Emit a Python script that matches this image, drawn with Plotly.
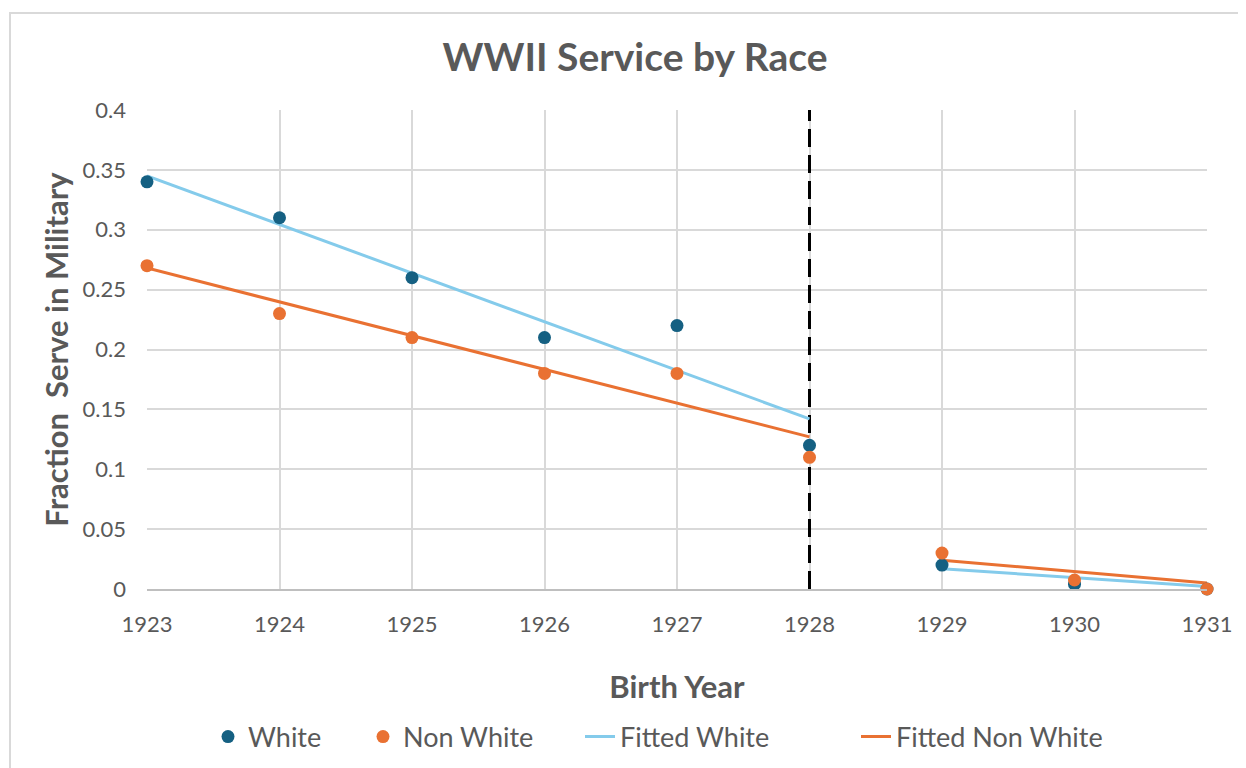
import plotly.graph_objects as go

# ---- data ----
years = [1923, 1924, 1925, 1926, 1927, 1928, 1929, 1930, 1931]
white = [0.34, 0.31, 0.26, 0.21, 0.22, 0.12, 0.02, 0.004, 0.0]
non_white = [0.27, 0.23, 0.21, 0.18, 0.18, 0.11, 0.03, 0.0075, 0.0]

fit_years = [1923, 1928, None, 1929, 1931]
fitted_white = [0.345, 0.142, None, 0.017, 0.002]
fitted_non_white = [0.268, 0.127, None, 0.024, 0.005]

cutoff_year = 1928
y_ticks = [0, 0.05, 0.1, 0.15, 0.2, 0.25, 0.3, 0.35, 0.4]
y_tick_text = ["0", "0.05", "0.1", "0.15", "0.2", "0.25", "0.3", "0.35", "0.4"]

# ---- styling ----
FONT = "Lato"
TXT = "#595959"
C_WHITE = "#156082"
C_NONWHITE = "#E97132"
C_FIT_WHITE = "#84CBEB"
C_FIT_NONWHITE = "#E97132"

OFF = 8  # page body margin
W, H = 1246 - OFF, 768 - OFF
ML, MR, MT, MB = 147 - OFF, 39, 110 - OFF, 179
PW, PH = W - ML - MR, H - MT - MB

def px_x(px):
    return (px - OFF - ML) / PW

def px_y(py):
    return (H - MB - (py - OFF)) / PH

fig = go.Figure()

fig.add_trace(go.Scatter(
    x=fit_years, y=fitted_white, mode="lines", name="Fitted White",
    line=dict(color=C_FIT_WHITE, width=3), legend="legend3", cliponaxis=False))
fig.add_trace(go.Scatter(
    x=fit_years, y=fitted_non_white, mode="lines", name="Fitted Non White",
    line=dict(color=C_FIT_NONWHITE, width=3), legend="legend4", cliponaxis=False))
fig.add_trace(go.Scatter(
    x=years, y=white, mode="markers", name="White",
    marker=dict(color=C_WHITE, size=13), legend="legend", cliponaxis=False))
fig.add_trace(go.Scatter(
    x=years, y=non_white, mode="markers", name="Non White",
    marker=dict(color=C_NONWHITE, size=13), legend="legend2", cliponaxis=False))

# dashed cutoff line
fig.add_shape(type="line", xref="x", yref="y", x0=cutoff_year, x1=cutoff_year,
              y0=0, y1=0.4, line=dict(color="black", width=3, dash="18px,8px"),
              layer="between")

# outer chart border
fig.add_shape(type="rect", xref="paper", yref="paper",
              x0=px_x(10), x1=px_x(1270), y0=px_y(13), y1=px_y(800),
              line=dict(color="#D9D9D9", width=2), layer="below")

leg_y = px_y(737)
leg_common = dict(orientation="h", yanchor="middle", xanchor="left", y=leg_y,
                  font=dict(family=FONT, size=27, color=TXT),
                  bgcolor="rgba(0,0,0,0)", borderwidth=0)

fig.update_layout(
    width=W, height=H,
    margin=dict(l=ML, r=MR, t=MT, b=MB, autoexpand=False),
    paper_bgcolor="white", plot_bgcolor="white",
    font=dict(family=FONT, color=TXT),
    title=dict(text="<b>WWII Service by Race</b>", xref="paper", x=px_x(635),
               xanchor="center", yref="container", y=1 - (57 - OFF) / H,
               yanchor="middle", font=dict(family=FONT, size=39, color=TXT)),
    xaxis=dict(range=[1923, 1931], tickmode="array", tickvals=years,
               ticktext=[str(y) for y in years],
               showgrid=True, gridcolor="#D9D9D9", gridwidth=1.5,
               showline=True, linecolor="#BFBFBF", linewidth=2,
               zeroline=False, ticks="", ticklabelstandoff=15,
               tickfont=dict(family=FONT, size=22, color=TXT),
               title=dict(text="<b>Birth Year</b>", standoff=40,
                          font=dict(family=FONT, size=31, color=TXT))),
    yaxis=dict(range=[0, 0.4], tickmode="array", tickvals=y_ticks,
               ticktext=y_tick_text,
               showgrid=True, gridcolor="#D9D9D9", gridwidth=1.5,
               showline=False, zeroline=False, ticks="", ticklabelstandoff=20,
               tickfont=dict(family=FONT, size=22, color=TXT),
               title=dict(text="<b>Fraction  Serve in Military</b>", standoff=4,
                          font=dict(family=FONT, size=31, color=TXT))),
    legend=dict(x=px_x(208), **leg_common),
    legend2=dict(x=px_x(363), **leg_common),
    legend3=dict(x=px_x(580), **leg_common),
    legend4=dict(x=px_x(856), **leg_common),
    showlegend=True,
)

fig.write_html("out.html")
